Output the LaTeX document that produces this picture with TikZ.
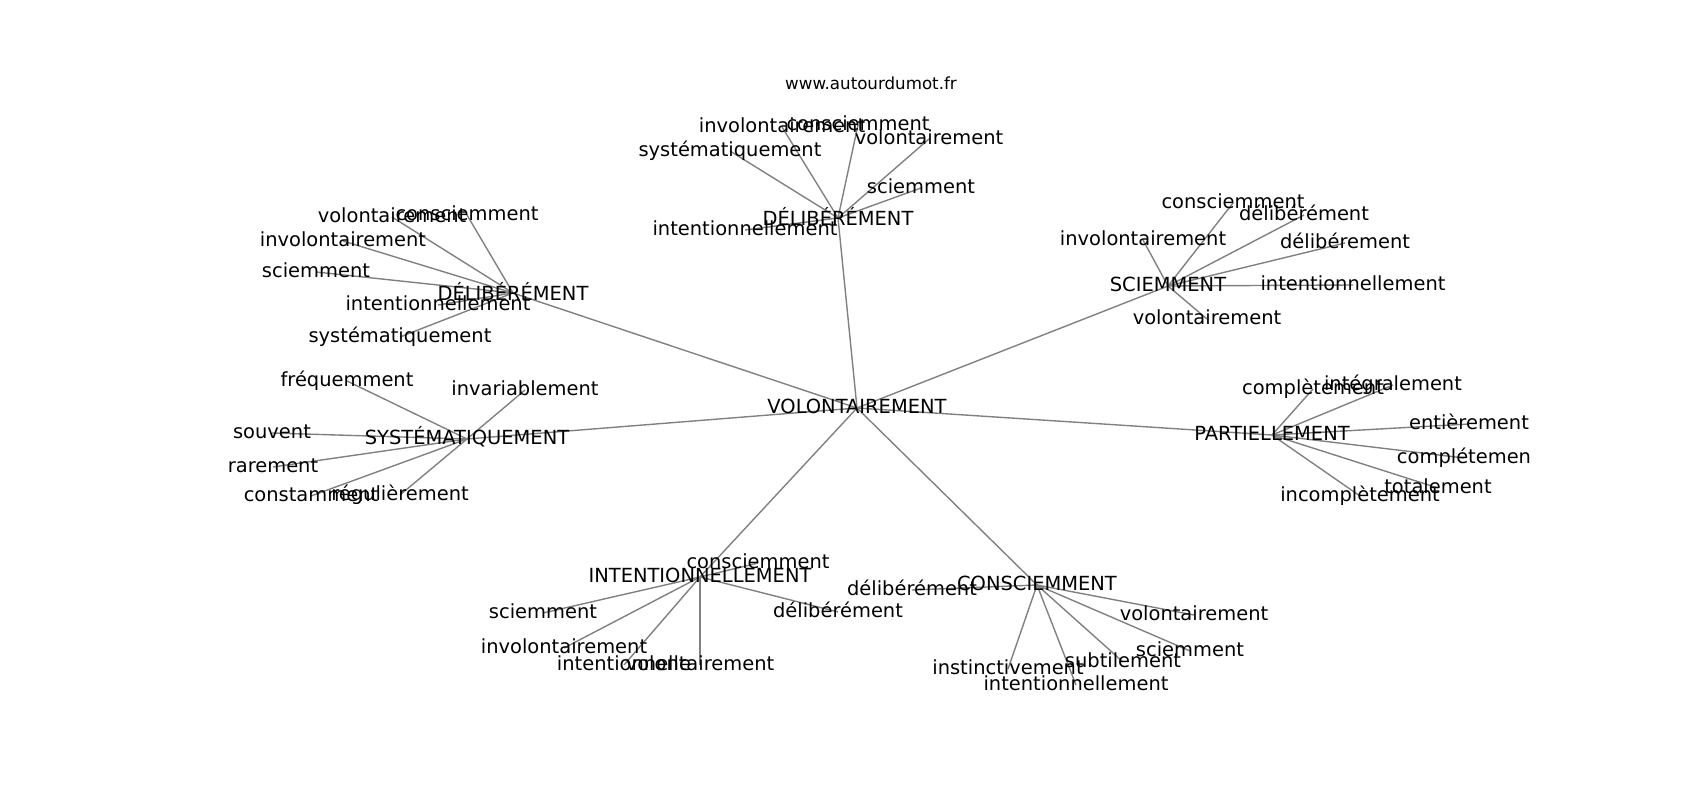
\documentclass[tikz,border=0pt]{standalone}
\usepackage{fontspec}
\setmainfont{DejaVu Sans}
\usetikzlibrary{backgrounds}
\tikzset{
  mot/.style={inner sep=0pt, font=\fontsize{14bp}{17bp}\selectfont, text height=1.06em, text depth=0.24em},
  accent/.style={mot, text height=1.3em}
}
\tikzset{lien/.style={draw=gray, line width=1bp}}
\begin{document}
\begin{tikzpicture}[x=0.01in, y=-0.01in]
  \useasboundingbox (0,0) rectangle (1700,800);
  \node (titre) at (871,83) [inner sep=0pt, font=\fontsize{12bp}{14bp}\selectfont] {www.autourdumot.fr};
  \node[mot] (vol) at (857,408) {VOLONTAIREMENT};
  \node[accent] (delA) at (838,218) {DÉLIBÉRÉMENT};
  \node[accent] (delB) at (513,293) {DÉLIBÉRÉMENT};
  \node[mot] (sys) at (467,439) {SYSTÉMATIQUEMENT};
  \node[mot] (sci) at (1168,286) {SCIEMMENT};
  \node[mot] (par) at (1272,435) {PARTIELLEMENT};
  \node[mot] (int) at (700,577) {INTENTIONNELLEMENT};
  \node[mot] (con) at (1037,585) {CONSCIEMMENT};

  \node[mot] (delA1) at (782,127) {involontairement};
  \node[mot] (delA2) at (858,125) {consciemment};
  \node[mot] (delA3) at (929,139) {volontairement};
  \node[mot] (delA4) at (730,151) {systématiquement};
  \node[mot] (delA5) at (921,188) {sciemment};
  \node[mot] (delA6) at (745,230) {intentionnellement};

  \node[mot] (delB1) at (392,217) {volontairement};
  \node[mot] (delB2) at (467,215) {consciemment};
  \node[mot] (delB3) at (343,241) {involontairement};
  \node[mot] (delB4) at (316,272) {sciemment};
  \node[mot] (delB5) at (438,305) {intentionnellement};
  \node[mot] (delB6) at (400,337) {systématiquement};

  \node[mot] (sys1) at (347,381) {fréquemment};
  \node[mot] (sys2) at (525,390) {invariablement};
  \node[mot] (sys3) at (272,433) {souvent};
  \node[mot] (sys4) at (273,467) {rarement};
  \node[mot] (sys5) at (311,496) {constamment};
  \node[mot] (sys6) at (400,495) {régulièrement};

  \node[mot] (sci1) at (1233,203) {consciemment};
  \node[mot] (sci2) at (1304,215) {délibérément};
  \node[mot] (sci3) at (1143,240) {involontairement};
  \node[mot] (sci4) at (1345,243) {délibérement};
  \node[mot] (sci5) at (1353,285) {intentionnellement};
  \node[mot] (sci6) at (1207,319) {volontairement};

  \node[mot] (par1) at (1313,389) {complètement};
  \node[mot] (par2) at (1393,385) {intégralement};
  \node[mot] (par3) at (1469,424) {entièrement};
  \node[mot] (par4) at (1464,458) {complétemen};
  \node[mot] (par5) at (1438,488) {totalement};
  \node[mot] (par6) at (1360,496) {incomplètement};

  \node[mot] (int1) at (758,563) {consciemment};
  \node[mot] (int2) at (543,613) {sciemment};
  \node[mot] (int3) at (564,648) {involontairement};
  \node[mot] (int4) at (624,665) {intentionnelle};
  \node[mot] (int5) at (700,665) {volontairement};
  \node[mot] (int6) at (838,612) {délibérément};

  \node[mot] (con1) at (912,590) {délibérément};
  \node[mot] (con2) at (1194,615) {volontairement};
  \node[mot] (con3) at (1190,651) {sciemment};
  \node[mot] (con4) at (1123,662) {subtilement};
  \node[mot] (con5) at (1008,669) {instinctivement};
  \node[mot] (con6) at (1076,685) {intentionnellement};

  \begin{scope}[on background layer]
    \foreach \h in {delA,delB,sys,sci,par,int,con}
      \draw[lien] (vol.center) -- (\h.center);
    \foreach \h in {delA,delB,sys,sci,par,int,con}
      \foreach \i in {1,...,6}
        \draw[lien] (\h.center) -- (\h\i.center);
  \end{scope}
\end{tikzpicture}
\end{document}
